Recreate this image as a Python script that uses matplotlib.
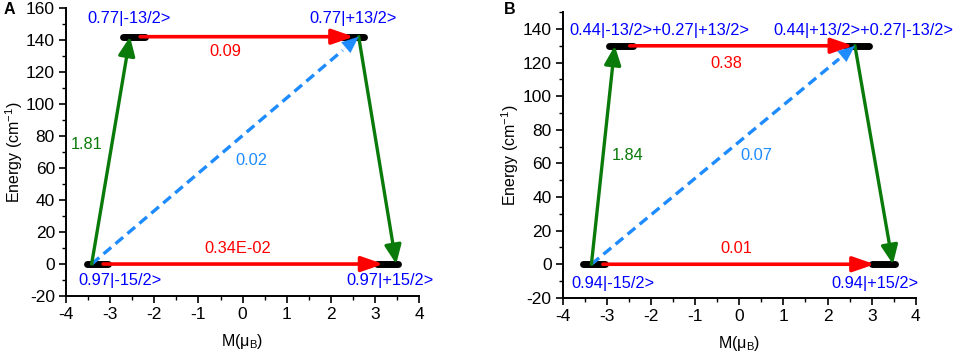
import matplotlib.pyplot as plt
from matplotlib.ticker import MultipleLocator

plt.rcParams['font.family'] = ['Liberation Sans', 'DejaVu Sans']
plt.rcParams['mathtext.fontset'] = 'custom'
plt.rcParams['mathtext.rm'] = 'Liberation Sans'
plt.rcParams['mathtext.it'] = 'Liberation Sans:italic'
plt.rcParams['axes.unicode_minus'] = False

# panel A data
a_energy = [0, 142]
a_m_left = [-3.42, -2.55]
a_m_right = [3.48, 2.63]
a_bar_left = [(-3.52, -3.05), (-2.72, -2.20)]
a_bar_right = [(3.05, 3.52), (2.20, 2.74)]
a_red_x = [(-3.16, 3.19), (-2.32, 2.52)]
a_labels = ['0.97|-15/2>', '0.77|-13/2>', '0.97|+15/2>', '0.77|+13/2>']
a_label_pos = [(-2.78, -10.5), (-2.58, 153.5), (3.35, -10.5), (2.5, 153.5)]
a_rates = ['0.34E-02', '0.09', '1.81', '0.02']
a_rate_pos = [(-0.1, 9.5), (-0.39, 133), (-3.53, 74.6), (0.19, 64.7)]

# panel B data
b_energy = [0, 130]
b_m_left = [-3.35, -2.82]
b_m_right = [3.48, 2.62]
b_bar_left = [(-3.55, -3.05), (-2.95, -2.41)]
b_bar_right = [(3.0, 3.53), (2.42, 2.94)]
b_red_x = [(-3.09, 3.07), (-2.48, 2.58)]
b_labels = ['0.94|-15/2>', '0.44|-13/2>+0.27|+13/2>', '0.94|+15/2>', '0.44|+13/2>+0.27|-13/2>']
b_label_pos = [(-2.87, -11.2), (-1.8, 138.8), (3.07, -11.2), (2.8, 138.8)]
b_rates = ['0.01', '0.38', '1.84', '0.07']
b_rate_pos = [(-0.08, 9.4), (-0.29, 119.4), (-2.52, 64.7), (0.39, 64.7)]

RED = '#FF0000'
GREEN = '#0A7A0A'
LBLUE = '#1E8CFF'
BLUE = '#0000FF'
FS = 11.8


def arrow(ax, start, end, color, lw=2.4, hl=1.4, hw=0.5, ms=12):
    ax.annotate('', xy=end, xytext=start,
                arrowprops=dict(arrowstyle=f'-|>,head_length={hl},head_width={hw}',
                                color=color, lw=lw, mutation_scale=ms,
                                shrinkA=0, shrinkB=0))


def panel(ax, energy, m_left, m_right, bars_l, bars_r, red_x, labels, label_pos,
          rates, rate_pos, ylim, ymax_tick):
    # black level bars
    for (x0, x1), e in zip(bars_l, energy):
        ax.plot([x0, x1], [e, e], color='black', lw=5, solid_capstyle='round', zorder=2)
    for (x0, x1), e in zip(bars_r, energy):
        ax.plot([x0, x1], [e, e], color='black', lw=5, solid_capstyle='round', zorder=2)
    # red QTM arrows
    for (x0, x1), e in zip(red_x, energy):
        arrow(ax, (x0, e), (x1, e), RED, lw=2.6, hl=1.1, hw=0.38, ms=12)
    # green Orbach arrows
    arrow(ax, (m_left[0], energy[0]), (m_left[1], energy[1]), GREEN, lw=2.4, hl=0.95, hw=0.42, ms=12)
    arrow(ax, (m_right[1], energy[1]), (m_right[0], energy[0]), GREEN, lw=2.4, hl=0.95, hw=0.42, ms=12)
    # blue dashed arrow
    x0, y0 = m_left[0], energy[0]
    x1, y1 = m_right[1], energy[1]
    f = 0.94
    ax.plot([x0, x0 + f * (x1 - x0)], [y0, y0 + f * (y1 - y0)], color=LBLUE, lw=2.4,
            ls=(0, (3, 1.7)))
    arrow(ax, (x0 + f * (x1 - x0), y0 + f * (y1 - y0)), (x1, y1), LBLUE, lw=0.1,
          hl=1.0, hw=0.42, ms=12)

    for t, (x, y) in zip(labels, label_pos):
        ax.text(x, y, t, color=BLUE, ha='center', va='center', fontsize=FS)
    rate_colors = [RED, RED, GREEN, LBLUE]
    for t, (x, y), c in zip(rates, rate_pos, rate_colors):
        ax.text(x, y, t, color=c, ha='center', va='center', fontsize=FS)

    ax.set_xlim(-4, 4)
    ax.set_ylim(*ylim)
    ax.xaxis.set_major_locator(MultipleLocator(1))
    ax.xaxis.set_minor_locator(MultipleLocator(0.5))
    ax.set_yticks(list(range(-20, ymax_tick + 1, 20)))
    ax.yaxis.set_minor_locator(MultipleLocator(10))
    ax.tick_params(which='major', length=5, width=1.2, labelsize=12.5, pad=3)
    ax.tick_params(which='minor', length=3, width=1.0)
    for s in ['top', 'right']:
        ax.spines[s].set_visible(False)
    for s in ['left', 'bottom']:
        ax.spines[s].set_linewidth(1.4)
    ax.set_xlabel('M(μ$_\\mathregular{B}$)', fontsize=11.5, labelpad=7)
    ax.set_ylabel('Energy (cm$^{\\mathregular{-1}}$)', fontsize=11.5, labelpad=1)


fig = plt.figure(figsize=(9.57, 3.58), dpi=100)
axA = fig.add_axes([0.069, 0.173, 0.369, 0.805])
axB = fig.add_axes([0.588, 0.168, 0.369, 0.798])

panel(axA, a_energy, a_m_left, a_m_right, a_bar_left, a_bar_right, a_red_x,
      a_labels, a_label_pos, a_rates, a_rate_pos, (-20, 160), 160)
panel(axB, b_energy, b_m_left, b_m_right, b_bar_left, b_bar_right, b_red_x,
      b_labels, b_label_pos, b_rates, b_rate_pos, (-20, 150), 140)

fig.text(9 / 957, 1 - 10 / 358, 'A', fontsize=11.5, fontweight='bold', ha='center', va='center')
fig.text(510 / 957, 1 - 10 / 358, 'B', fontsize=11.5, fontweight='bold', ha='center', va='center')

fig.savefig('out.png', dpi=100)
